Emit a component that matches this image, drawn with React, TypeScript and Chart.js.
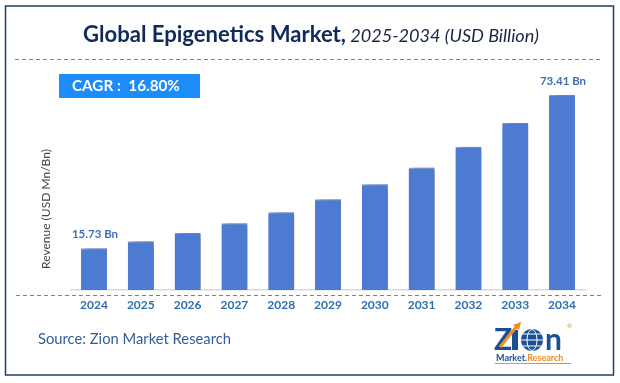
import React, { useEffect, useRef } from "react";
import { Chart, registerables } from "chart.js";

Chart.register(...registerables);

const years = ["2024", "2025", "2026", "2027", "2028", "2029", "2030", "2031", "2032", "2033", "2034"];
const revenue = [15.73, 18.37, 21.46, 25.15, 29.3, 34.15, 39.8, 46.1, 53.9, 62.9, 73.41];
const valueLabels = ["15.73 Bn", "", "", "", "", "", "", "", "", "", "73.41 Bn"];
const titleMain = "Global Epigenetics Market,";
const titleSub = " 2025-2034 (USD Billion)";
const cagrText = "CAGR :  16.80%";
const yAxisTitle = "Revenue (USD Mn/Bn)";
const sourceText = "Source: Zion Market Research";

const FONT = "Lato, 'Open Sans', sans-serif";
const NAVY = "#102a5c";
const BLUE_TEXT = "#2f6db3";

function widthAt(ctx: CanvasRenderingContext2D, text: string, font: string) {
  ctx.font = font;
  return ctx.measureText(text).width;
}

function fitSize(ctx: CanvasRenderingContext2D, text: string, pre: string, target: number) {
  const w = widthAt(ctx, text, `${pre} 100px ${FONT}`);
  return (100 * target) / w;
}

function dashedLine(ctx: CanvasRenderingContext2D, x1: number, x2: number, y: number) {
  ctx.save();
  ctx.strokeStyle = "#5f86c4";
  ctx.lineWidth = 1.2;
  ctx.setLineDash([4, 3]);
  ctx.beginPath();
  ctx.moveTo(x1, y);
  ctx.lineTo(x2, y);
  ctx.stroke();
  ctx.restore();
}

const decorPlugin = {
  id: "decor",
  beforeDraw(chart: any) {
    const ctx: CanvasRenderingContext2D = chart.ctx;
    const W = chart.width;
    ctx.save();
    ctx.fillStyle = "#ffffff";
    ctx.fillRect(0, 0, W, chart.height);
    ctx.strokeStyle = "#1f3f6e";
    ctx.lineWidth = 1.5;
    ctx.strokeRect(5.5, 6, 608, 369);

    const wMain = widthAt(ctx, titleMain, `bold 100px ${FONT}`);
    const wSub = widthAt(ctx, titleSub, `italic 100px ${FONT}`) * 0.82;
    const s = (100 * 456) / (wMain + wSub);
    ctx.textBaseline = "alphabetic";
    ctx.textAlign = "left";
    ctx.fillStyle = NAVY;
    ctx.font = `bold ${s}px ${FONT}`;
    ctx.fillText(titleMain, 83, 41.5);
    const mw = ctx.measureText(titleMain).width;
    ctx.font = `italic ${s * 0.82}px ${FONT}`;
    ctx.fillStyle = "#1a2444";
    ctx.fillText(titleSub, 83 + mw, 41.5);

    dashedLine(ctx, 15, 601, 59.5);

    ctx.fillStyle = "#1c8cfb";
    ctx.fillRect(59, 74, 141, 24);
    const cs = fitSize(ctx, cagrText, "bold", 108);
    ctx.font = `bold ${cs}px ${FONT}`;
    ctx.fillStyle = "#ffffff";
    ctx.textBaseline = "middle";
    ctx.fillText(cagrText, 72, 86.5);

    ctx.save();
    ctx.translate(46, 209);
    ctx.rotate(-Math.PI / 2);
    const ys = fitSize(ctx, yAxisTitle, "normal", 120);
    ctx.font = `${ys}px ${FONT}`;
    ctx.fillStyle = "#444444";
    ctx.textAlign = "center";
    ctx.textBaseline = "middle";
    ctx.fillText(yAxisTitle, 0, 0);
    ctx.restore();

    dashedLine(ctx, 16, 601, 295.5);

    const ss = fitSize(ctx, sourceText, "normal", 193);
    ctx.font = `${ss}px ${FONT}`;
    ctx.fillStyle = "#2f5f98";
    ctx.textAlign = "left";
    ctx.textBaseline = "middle";
    ctx.fillText(sourceText, 38, 339.5);

    const LB = "#1b4f93";
    const OR = "#f28c1e";
    ctx.font = `bold 30px ${FONT}`;
    ctx.textBaseline = "alphabetic";
    ctx.fillStyle = LB;
    ctx.fillText("Z", 494, 350);
    ctx.fillRect(512, 330, 6, 20);
    ctx.strokeStyle = OR;
    ctx.lineWidth = 3;
    ctx.beginPath();
    ctx.moveTo(500, 347);
    ctx.lineTo(517, 326);
    ctx.stroke();
    ctx.fillStyle = OR;
    ctx.beginPath();
    ctx.moveTo(521, 322);
    ctx.lineTo(513, 325);
    ctx.lineTo(519, 330);
    ctx.closePath();
    ctx.fill();
    ctx.fillStyle = LB;
    ctx.beginPath();
    ctx.arc(532, 340, 11, 0, Math.PI * 2);
    ctx.fill();
    ctx.strokeStyle = "#ffffff";
    ctx.lineWidth = 1;
    ctx.beginPath();
    ctx.ellipse(532, 340, 5, 10.5, 0, 0, Math.PI * 2);
    ctx.moveTo(521, 340);
    ctx.lineTo(543, 340);
    ctx.moveTo(523, 334);
    ctx.lineTo(541, 334);
    ctx.moveTo(523, 346);
    ctx.lineTo(541, 346);
    ctx.stroke();
    ctx.fillStyle = LB;
    ctx.font = `bold 30px ${FONT}`;
    ctx.fillText("n", 545, 350);
    ctx.font = `bold 9px ${FONT}`;
    ctx.fillStyle = LB;
    ctx.fillText("Market.", 496, 361);
    const mkw = ctx.measureText("Market.").width;
    ctx.fillStyle = OR;
    ctx.fillText("Research", 496 + mkw, 361);
    ctx.strokeStyle = "#8aa4c8";
    ctx.lineWidth = 1;
    ctx.beginPath();
    ctx.moveTo(495, 363.5);
    ctx.lineTo(571, 363.5);
    ctx.stroke();
    ctx.font = `6px ${FONT}`;
    ctx.fillStyle = OR;
    ctx.fillText("®", 567, 328);
    ctx.restore();
  },
  beforeDatasetsDraw(chart: any) {
    const ctx = chart.ctx;
    ctx.save();
    ctx.shadowColor = "rgba(0,0,0,0.55)";
    ctx.shadowBlur = 6;
    ctx.shadowOffsetX = 5;
    ctx.shadowOffsetY = 1;
  },
  afterDatasetsDraw(chart: any) {
    const ctx: CanvasRenderingContext2D = chart.ctx;
    ctx.restore();
    const meta = chart.getDatasetMeta(0);
    ctx.save();
    ctx.font = `bold 11.5px ${FONT}`;
    ctx.fillStyle = "#3a70b8";
    ctx.textAlign = "center";
    ctx.textBaseline = "middle";
    meta.data.forEach((bar: any, i: number) => {
      const t = valueLabels[i];
      if (t) ctx.fillText(t, bar.x + 1, bar.y - 14);
    });
    ctx.restore();
  },
};

export default function App() {
  const ref = useRef<HTMLCanvasElement | null>(null);
  useEffect(() => {
    document.body.style.margin = "0";
    const canvas = ref.current!;
    const chart = new Chart(canvas, {
      type: "bar",
      data: {
        labels: years,
        datasets: [
          {
            data: revenue,
            backgroundColor: "#4c7bd1",
            borderColor: "#7fa3e2",
            borderWidth: { top: 1, left: 0, right: 0, bottom: 0 } as any,
            barPercentage: 0.555,
            categoryPercentage: 1,
          },
        ],
      },
      options: {
        responsive: false,
        animation: false,
        devicePixelRatio: 1,
        layout: { padding: { left: 70.6, right: 34.6, top: 77.5, bottom: 63 } },
        plugins: { legend: { display: false }, tooltip: { enabled: false }, title: { display: false } },
        scales: {
          x: {
            grid: { display: false, drawTicks: false },
            border: { display: true, color: "#d9d9d9", width: 1.5 },
            ticks: { font: { family: FONT, size: 12, weight: "bold" }, color: BLUE_TEXT, padding: 8 },
            afterFit: (s: any) => {
              s.height = 30;
            },
          },
          y: { display: false, min: 0, max: 80 },
        },
      },
      plugins: [decorPlugin],
    });
    return () => chart.destroy();
  }, []);
  return <canvas ref={ref} width={620} height={383} style={{ display: "block" }} />;
}
